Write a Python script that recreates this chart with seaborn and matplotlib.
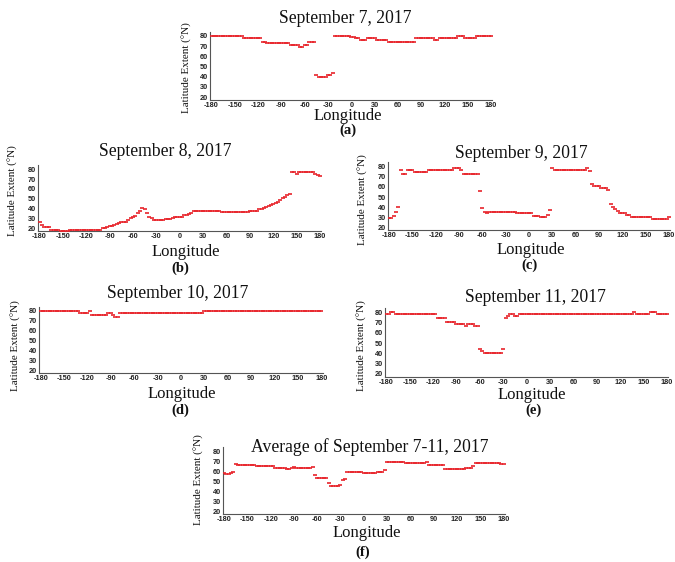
import numpy as np
import pandas as pd
import matplotlib
matplotlib.use("Agg")
import matplotlib.pyplot as plt
import seaborn as sns

# Longitude sampling (degrees), one value every 3 degrees from -180 to 180
longitude = np.arange(-180, 181, 3)

# Northern latitude extent (deg N) per longitude, one row per 30 degrees
lat_sep07 = [
    80, 80, 80, 80, 80, 80, 80, 80, 80, 80,
    80, 80, 80, 80, 78, 78, 78, 78, 78, 78,
    78, 78, 74, 74, 73, 73, 73, 73, 73, 73,
    73, 73, 73, 73, 71, 71, 71, 71, 69, 69,
    71, 71, 74, 74, 74, 42, 40, 40, 40, 40,
    42, 42, 44, 80, 80, 80, 80, 80, 80, 80,
    79, 79, 78, 78, 76, 76, 76, 78, 78, 78,
    78, 76, 76, 76, 76, 76, 74, 74, 74, 74,
    74, 74, 74, 74, 74, 74, 74, 74, 78, 78,
    78, 78, 78, 78, 78, 78, 76, 76, 78, 78,
    78, 78, 78, 78, 78, 78, 80, 80, 80, 78,
    78, 78, 78, 78, 80, 80, 80, 80, 80, 80,
    80,
]

lat_sep08 = [
    26, 23, 21, 21, 21, 18.5, 18.5, 18.5, 18.5, 17,
    17, 17, 17.5, 18.5, 18.5, 18.5, 18.5, 18.5, 18.5, 18.5,
    18.5, 18.5, 18.5, 18.5, 18.5, 18.5, 18.5, 20, 20, 21,
    22, 22, 23.5, 24, 25, 26, 26, 26.5, 28, 30,
    31.5, 33, 35.5, 37.5, 40.5, 39.5, 36, 32, 30, 28.5,
    28, 28, 28, 28, 29.5, 29.5, 29.5, 30.5, 31.5, 31.5,
    32, 32, 33.5, 34, 35, 36, 38, 38, 38, 38,
    38, 38, 38, 38, 38, 38, 38, 38, 36.5, 36.5,
    36.5, 36.5, 36.5, 36.5, 36.5, 36.5, 36.5, 36.5, 36.5, 36.5,
    37.5, 38, 38, 38, 39.5, 40, 40.5, 42, 43, 44,
    45, 46, 47, 48.5, 50.5, 52, 54, 55, 77.5, 77.5,
    75.5, 77.5, 77.5, 77.5, 77.5, 77.5, 77.5, 77.5, 75, 74,
    73.5,
]

lat_sep09 = [
    29.5, 29.5, 31, 35, 40, 77, 73, 73, 77, 77,
    77, 75, 75, 75, 75, 75, 75, 77, 77, 77,
    77, 77, 77, 77, 77, 77, 77, 77, 79, 79,
    79, 77, 73, 73, 73, 73, 73, 73, 73, 56,
    39, 35.5, 34, 35.5, 35.5, 35.5, 35.5, 35.5, 35.5, 35.5,
    35.5, 35.5, 35.5, 35.5, 35.5, 34, 34, 34, 34, 34,
    34, 34, 31.5, 31.5, 31.5, 30, 30, 30, 32, 37,
    79, 77, 77, 77, 77, 77, 77, 77, 77, 77,
    77, 77, 77, 77, 77, 79, 75.5, 63, 61, 61,
    61, 59, 59, 59, 57, 43, 40.5, 38, 36, 34.5,
    34.5, 34.5, 32, 32, 30, 30, 30, 30, 30, 30,
    30, 30, 30, 28, 28, 28, 28, 28, 28, 28,
    30,
]

lat_sep10 = [
    80, 80, 80, 80, 80, 80, 80, 80, 80, 80,
    80, 80, 80, 80, 80, 80, 80, 77.5, 77.5, 77.5,
    77.5, 80, 75.5, 75.5, 75.5, 75.5, 75.5, 75.5, 75.5, 77.5,
    77.5, 75.5, 74, 74, 77.5, 77.5, 77.5, 77.5, 77.5, 77.5,
    77.5, 77.5, 77.5, 77.5, 77.5, 77.5, 77.5, 77.5, 77.5, 77.5,
    77.5, 77.5, 77.5, 77.5, 77.5, 77.5, 77.5, 77.5, 77.5, 77.5,
    77.5, 77.5, 77.5, 77.5, 77.5, 77.5, 77.5, 77.5, 77.5, 77.5,
    80, 80, 80, 80, 80, 80, 80, 80, 80, 80,
    80, 80, 80, 80, 80, 80, 80, 80, 80, 80,
    80, 80, 80, 80, 80, 80, 80, 80, 80, 80,
    80, 80, 80, 80, 80, 80, 80, 80, 80, 80,
    80, 80, 80, 80, 80, 80, 80, 80, 80, 80,
    80,
]

lat_sep11 = [
    78, 78, 80, 80, 78, 78, 78, 78, 78, 78,
    78, 78, 78, 78, 78, 78, 78, 78, 78, 78,
    78, 78, 74, 74, 74, 74, 71, 71, 71, 71,
    69, 69, 69, 69, 67, 69, 69, 69, 67, 67,
    44.5, 42, 40, 40, 40, 40, 40, 40, 40, 40,
    44, 74, 76, 78, 78, 76, 76, 78, 78, 78,
    78, 78, 78, 78, 78, 78, 78, 78, 78, 78,
    78, 78, 78, 78, 78, 78, 78, 78, 78, 78,
    78, 78, 78, 78, 78, 78, 78, 78, 78, 78,
    78, 78, 78, 78, 78, 78, 78, 78, 78, 78,
    78, 78, 78, 78, 78, 78, 80, 78, 78, 78,
    78, 78, 78, 80, 80, 80, 78, 78, 78, 78,
    78,
]

lat_avg = [
    58, 57.5, 57.5, 58, 59, 67, 66.5, 66.5, 66, 66,
    66, 66, 66, 66, 65.5, 65.5, 65.5, 65.5, 65.5, 65.5,
    65.5, 65.5, 63.5, 63.5, 63.5, 63.5, 63.5, 62.5, 62.5, 63,
    64, 63.5, 63, 63, 63, 63, 63, 63.5, 64, 56,
    53.5, 53, 53, 53, 53, 48, 45.5, 45.5, 45, 45,
    46, 51.5, 52, 59, 59, 59, 59, 59, 59, 59,
    58.5, 58.5, 58.5, 58.5, 58.5, 58.5, 59.5, 59.5, 59.5, 61,
    69.5, 69.5, 69.5, 69.5, 69.5, 69.5, 69.5, 69.5, 68.5, 68.5,
    68.5, 68.5, 68.5, 68.5, 68.5, 68.5, 68.5, 69, 66, 66,
    66, 66, 66, 66, 66, 62.5, 62.5, 62.5, 62.5, 62.5,
    62.5, 62.5, 62.5, 62.5, 63.3, 63.3, 63.3, 65, 67.7, 67.7,
    67.7, 67.7, 67.7, 67.7, 68.3, 68.3, 68.3, 67.7, 67.7, 67.3,
    67,
]

titles = ["September 7, 2017", "September 8, 2017", "September 9, 2017",
          "September 10, 2017", "September 11, 2017",
          "Average of September 7-11, 2017"]
tags = ["(a)", "(b)", "(c)", "(d)", "(e)", "(f)"]
series = [lat_sep07, lat_sep08, lat_sep09, lat_sep10, lat_sep11, lat_avg]
x_ticks = list(range(-180, 181, 30))
y_ticks = [20, 30, 40, 50, 60, 70, 80]

RED = "#e8242b"
SERIF = ["Liberation Serif", "DejaVu Serif"]
SANS = ["Liberation Sans", "DejaVu Sans"]

sns.set_theme(style="white")
plt.rcParams["font.family"] = SERIF

W, H = 675, 562
fig = plt.figure(figsize=(W / 100, H / 100), dpi=100)

XLIM = (-181.5, 181.5)
YLIM = (17.5, 84.3)

# Pixel layout per panel: x of -180 / 180 ticks, y of 80 / 20 ticks,
# title centre, x-label centre, tag centre, y-label centre
layout = [
    dict(x0=211.5, x1=491, y80=36, y20=97, title=(345, 18.5), xlab=(347.5, 115.5),
         tag=(348, 130.5), ylab=(187.5, 68)),
    dict(x0=39.5, x1=320, y80=169.3, y20=228.3, title=(165, 151), xlab=(186, 251.5),
         tag=(180, 268), ylab=(13.5, 191)),
    dict(x0=389, x1=669, y80=166.7, y20=227.3, title=(521, 153), xlab=(531, 250),
         tag=(529, 265.5), ylab=(362.5, 200)),
    dict(x0=40.6, x1=321.4, y80=311, y20=370.7, title=(178, 294), xlab=(182, 394),
         tag=(180, 410.5), ylab=(16, 346)),
    dict(x0=386.3, x1=667, y80=312.3, y20=374, title=(535, 297), xlab=(532, 395),
         tag=(533, 410.5), ylab=(362, 346)),
    dict(x0=224, x1=503.5, y80=451, y20=511, title=(370, 447), xlab=(367, 533),
         tag=(363, 552.5), ylab=(199, 480)),
]


def fx(px):
    return px / W


def fy(py):
    return 1 - py / H


for lat, title, tag, lay in zip(series, titles, tags, layout):
    kx = (lay["x1"] - lay["x0"]) / 360.0
    ky = (lay["y20"] - lay["y80"]) / 60.0
    left = lay["x0"] - (XLIM[1] - 180) * kx
    right = lay["x1"] + (XLIM[1] - 180) * kx
    top = lay["y80"] - (YLIM[1] - 80) * ky
    bottom = lay["y20"] + (20 - YLIM[0]) * ky
    ax = fig.add_axes([fx(left), fy(bottom), (right - left) / W, (bottom - top) / H])

    df = pd.DataFrame({"Longitude": longitude, "Latitude": lat})
    sns.scatterplot(data=df, x="Longitude", y="Latitude", ax=ax, marker="_",
                    s=9, linewidth=1.2, color=RED, legend=False, zorder=3)

    ax.set_xlim(*XLIM)
    ax.set_ylim(*YLIM)
    ax.set_xticks(x_ticks)
    ax.set_yticks(y_ticks)
    ax.set_xticklabels([str(v) for v in x_ticks])
    ax.set_yticklabels([str(v) for v in y_ticks])
    ax.set_xlabel("")
    ax.set_ylabel("")
    for lbl in ax.get_xticklabels() + ax.get_yticklabels():
        lbl.set_fontfamily(SANS)
        lbl.set_fontweight("bold")
        lbl.set_fontsize(5.3)
        lbl.set_color("#222222")
    ax.tick_params(axis="both", length=1.0, width=0.5, pad=0.6, colors="#444444",
                   labelcolor="#222222")
    for side in ("top", "right"):
        ax.spines[side].set_visible(False)
    for side in ("left", "bottom"):
        ax.spines[side].set_color("#555555")
        ax.spines[side].set_linewidth(0.8)
    ax.set_facecolor("white")

    fig.text(fx(lay["title"][0]), fy(lay["title"][1]), title, ha="center",
             va="center", fontsize=12.7, color="#111111")
    fig.text(fx(lay["xlab"][0]), fy(lay["xlab"][1]), "Longitude", ha="center",
             va="center", fontsize=12, color="#111111")
    fig.text(fx(lay["tag"][0]), fy(lay["tag"][1]), tag, ha="center",
             va="center", fontsize=10.5, fontweight="bold", color="#111111")
    fig.text(fx(lay["ylab"][0]), fy(lay["ylab"][1]), "Latitude Extent (°N)",
             ha="center", va="center", rotation=90, fontsize=8, color="#111111")

fig.savefig("out.png", dpi=100, facecolor="white")
